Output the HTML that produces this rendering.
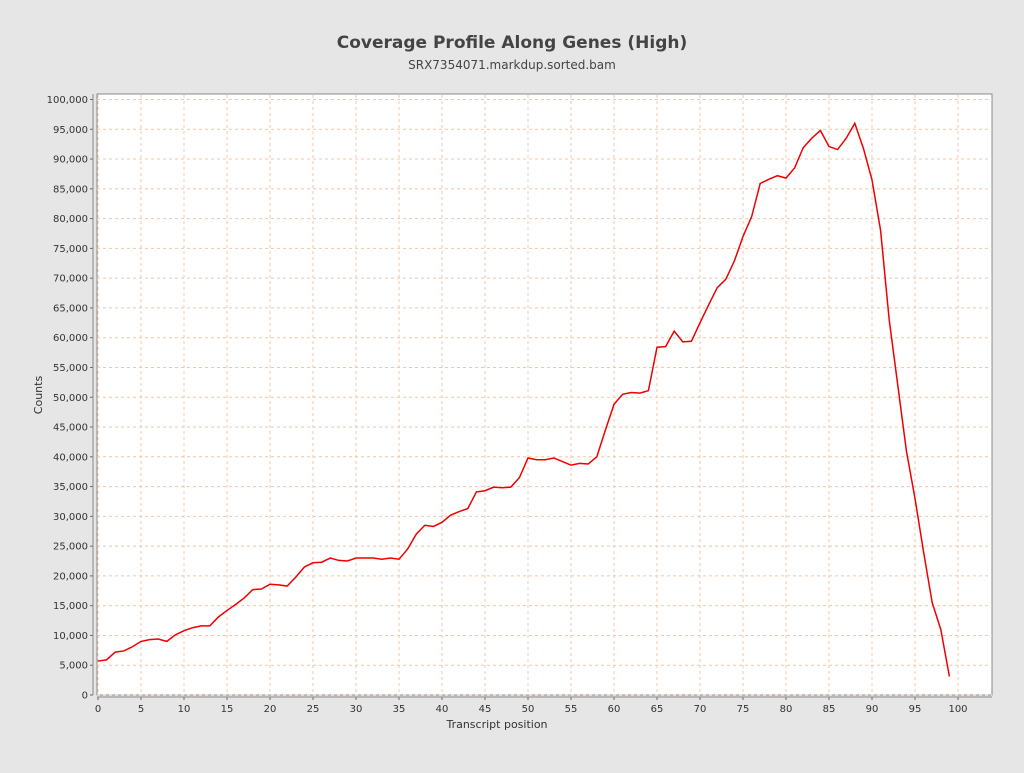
<!DOCTYPE html>
<html><head><meta charset="utf-8"><style>
body{margin:0;background:#e6e6e6;width:1024px;height:768px;overflow:hidden;font-family:"Liberation Sans","DejaVu Sans",sans-serif}
</style></head><body>
<svg id="s" width="1024" height="768" xmlns="http://www.w3.org/2000/svg" font-family="DejaVu Sans, Liberation Sans, sans-serif">
<text x="512" y="48" text-anchor="middle" font-size="17" font-weight="bold" fill="#444">Coverage Profile Along Genes (High)</text>
<text x="512" y="69" text-anchor="middle" font-size="12" fill="#444">SRX7354071.markdup.sorted.bam</text>
<rect x="97" y="94" width="895" height="601" fill="#fff" stroke="#888" stroke-width="1"/>
<g id="g"></g>
<text x="497" y="728" text-anchor="middle" font-size="11" fill="#333">Transcript position</text>
<text transform="translate(42,395) rotate(-90)" text-anchor="middle" font-size="11" fill="#333">Counts</text>
</svg>
<script>
const d=[5700,5900,7200,7400,8100,9000,9300,9400,9000,10100,10800,11300,11600,11600,13100,14200,15200,16300,17700,17800,18600,18500,18300,19800,21500,22200,22300,23000,22600,22500,23000,23000,23000,22800,23000,22800,24500,27000,28500,28300,29000,30200,30800,31300,34100,34300,34900,34800,34900,36500,39800,39500,39500,39800,39200,38600,38900,38800,40000,44500,48800,50500,50800,50700,51100,58400,58500,61100,59300,59400,62500,65500,68400,69800,72900,77000,80300,85900,86600,87200,86800,88500,91900,93500,94800,92100,91600,93500,96000,91800,86500,78000,63000,52000,41000,33000,24000,15500,11000,3100];
const X=v=>98+v*8.6, Y=v=>695-v*0.005955;
let h='';
for(let i=0;i<=100;i+=5){const x=X(i);
h+=`<line x1="${x}" y1="95" x2="${x}" y2="695" stroke="#f0c8a8" stroke-dasharray="3,3"/>`;
h+=`<line x1="${x}" y1="697" x2="${x}" y2="700" stroke="#666"/><text x="${x}" y="712" text-anchor="middle" font-size="10" fill="#333">${i}</text>`;}
for(let v=0;v<=100000;v+=5000){const y=Y(v);
h+=`<line x1="97" y1="${y}" x2="992" y2="${y}" stroke="#f0c8a8" stroke-dasharray="3,3"/>`;
h+=`<line x1="90" y1="${y}" x2="93" y2="${y}" stroke="#666"/><text x="88" y="${y+3.5}" text-anchor="end" font-size="10" fill="#333">${v.toLocaleString('en-US')}</text>`;}
h+=`<line x1="93" y1="94" x2="93" y2="695" stroke="#888"/><line x1="97" y1="697" x2="992" y2="697" stroke="#888"/>`;
h+=`<polyline fill="none" stroke="#e00" stroke-width="1.5" points="${d.map((v,i)=>X(i)+','+Y(v)).join(' ')}"/>`;
document.getElementById('g').innerHTML=h;
</script>
</body></html>
